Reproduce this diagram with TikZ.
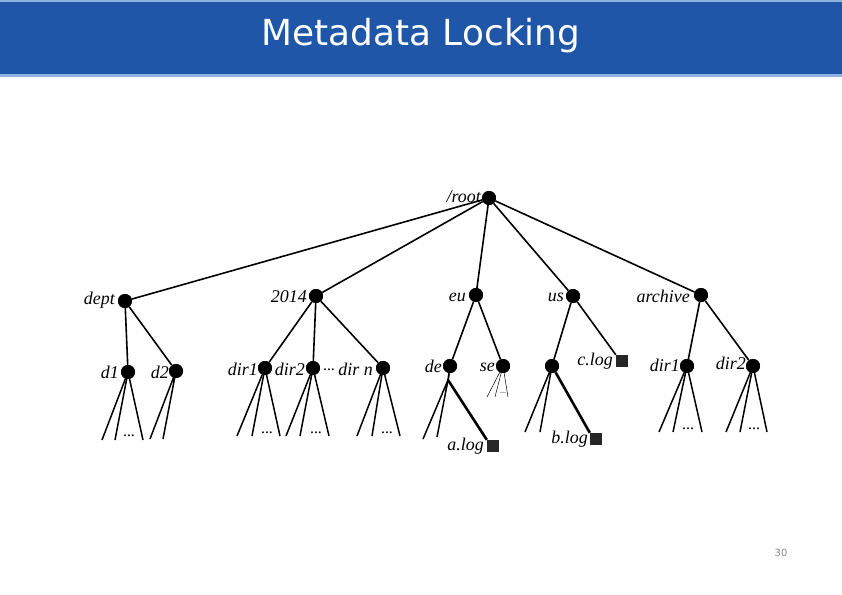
\documentclass[tikz,border=0pt]{standalone}
\usepackage{fontspec}
\newfontfamily\titlefont{DejaVu Sans}
\newfontfamily\lblfont{Liberation Serif}
\definecolor{hdrblue}{HTML}{1F56A8}
\definecolor{hdrline}{HTML}{8DB3E2}
\begin{document}
\begin{tikzpicture}[x=1bp,y=-1bp,
  dot/.style={circle,fill=black,inner sep=0pt,minimum size=14bp},
  sq/.style={rectangle,fill=black!85,inner sep=0pt,minimum size=12bp},
  lbl/.style={font=\lblfont\fontsize{18}{18}\selectfont\itshape,inner sep=0pt,anchor=east},
  edgeline/.style={line width=1.6bp},
  heavy/.style={line width=2.6bp},
  leaf/.style={line width=1.5bp},
  faint/.style={line width=0.5bp},
  dotsl/.style={font=\lblfont\fontsize{16}{16}\selectfont,inner sep=0pt}]
\useasboundingbox (0,0) rectangle (842,595);
\fill[white] (0,0) rectangle (842,595);
% header
\fill[hdrline] (0,0) rectangle (842,77);
\fill[hdrblue] (0,2) rectangle (842,74);
\node[font=\titlefont\fontsize{36}{36}\selectfont,text=white,anchor=base,inner sep=0pt] (title) at (421,46) {Metadata Locking};
\node[font=\titlefont\fontsize{10}{10}\selectfont,text=black!45,inner sep=0pt] (pnum) at (781,553) {30};

% nodes
\node[dot] (root) at (489,198) {};
\node[dot] (dept) at (125,301) {};
\node[dot] (y2014) at (316,296) {};
\node[dot] (eu) at (476,295) {};
\node[dot] (us) at (573,296) {};
\node[dot] (archive) at (701,295) {};
\node[dot] (d1) at (128,372) {};
\node[dot] (d2) at (176,371) {};
\node[dot] (dira) at (265,368) {};
\node[dot] (dirb) at (313,368) {};
\node[dot] (dirn) at (383,368) {};
\node[dot] (de) at (450,366) {};
\node[dot] (se) at (503,366) {};
\node[dot] (usx) at (552,366) {};
\node[dot] (ardir1) at (687,366) {};
\node[dot] (ardir2) at (753,366) {};
\node[sq] (clog) at (622,361) {};
\node[sq] (alog) at (493,446) {};
\node[sq] (blog) at (596,439) {};

% labels
\node[lbl] (lroot) at (481,197) {/root};
\node[lbl] (ldept) at (115,300) {dept};
\node[lbl] (l2014) at (307,297) {2014};
\node[lbl] (leu) at (466,297) {eu};
\node[lbl] (lus) at (564,297) {us};
\node[lbl] (larch) at (690,296) {archive};
\node[lbl] (ld1) at (119,372) {d1};
\node[lbl] (ld2) at (169,372) {d2};
\node[lbl] (ldira) at (258,369) {dir1};
\node[lbl] (ldirb) at (305,369) {dir2};
\node[lbl] (ldirn) at (373,369) {dir n};
\node[dotsl] (ldirdots) at (329,370) {...};
\node[lbl] (lde) at (442,366) {de};
\node[lbl] (lse) at (495,367) {se};
\node[lbl] (lclog) at (613,361) {c.log};
\node[lbl] (lard1) at (680,365) {dir1};
\node[lbl] (lard2) at (746,363) {dir2};
\node[lbl] (lalog) at (484,446) {a.log};
\node[lbl] (lblog) at (588,439) {b.log};

% main edges
\draw[edgeline] (root) -- (dept);
\draw[edgeline] (root) -- (y2014);
\draw[edgeline] (root) -- (eu);
\draw[edgeline] (root) -- (us);
\draw[edgeline] (root) -- (archive);
\draw[edgeline] (dept) -- (d1);
\draw[edgeline] (dept) -- (d2);
\draw[edgeline] (y2014) -- (dira);
\draw[edgeline] (y2014) -- (dirb);
\draw[edgeline] (y2014) -- (dirn);
\draw[edgeline] (eu) -- (de);
\draw[edgeline] (eu) -- (se);
\draw[edgeline] (us) -- (usx);
\draw[edgeline] (us) -- (clog.north west);
\draw[edgeline] (archive) -- (ardir1);
\draw[edgeline] (archive) -- (ardir2);

% leaf fans
\coordinate (d1a) at (102,440); \coordinate (d1b) at (115,440); \coordinate (d1c) at (143,440);
\draw[leaf] (d1a) -- (d1.center) -- (d1c); \draw[leaf] (d1) -- (d1b);
\node[dotsl] (d1dots) at (129,436) {...};
\coordinate (d2a) at (150,439); \coordinate (d2b) at (163,439);
\draw[leaf] (d2a) -- (d2.center) -- (d2b);

\coordinate (daa) at (237,436); \coordinate (dab) at (252,436); \coordinate (dac) at (280,436);
\draw[leaf] (daa) -- (dira.center) -- (dac); \draw[leaf] (dira) -- (dab);
\node[dotsl] (dadots) at (267,433) {...};
\coordinate (dba) at (286,436); \coordinate (dbb) at (300,436); \coordinate (dbc) at (329,436);
\draw[leaf] (dba) -- (dirb.center) -- (dbc); \draw[leaf] (dirb) -- (dbb);
\node[dotsl] (dbdots) at (316,433) {...};
\coordinate (dna) at (357,436); \coordinate (dnb) at (372,436); \coordinate (dnc) at (400,436);
\draw[leaf] (dna) -- (dirn.center) -- (dnc); \draw[leaf] (dirn) -- (dnb);
\node[dotsl] (dndots) at (387,433) {...};

\coordinate (dea) at (423,439); \coordinate (deb) at (437,437); \coordinate (dec) at (448,380);
\draw[leaf] (dea) -- (dec) -- (deb);
\draw[leaf] (de) -- (dec);
\draw[heavy] (dec) -- (alog.north west);

\coordinate (sea) at (487,397); \coordinate (seb) at (495,397); \coordinate (sec) at (508,397);
\draw[faint] (sea) -- (se.center) -- (sec); \draw[faint] (se) -- (seb);
\node[font=\lblfont\fontsize{8}{8}\selectfont,inner sep=0pt] (sedots) at (503,393) {...};

\coordinate (uxa) at (525,432); \coordinate (uxb) at (540,432);
\draw[leaf] (uxa) -- (usx.center) -- (uxb);
\draw[heavy] (usx) -- (blog.north west);

\coordinate (a1a) at (659,432); \coordinate (a1b) at (673,432); \coordinate (a1c) at (702,432);
\draw[leaf] (a1a) -- (ardir1.center) -- (a1c); \draw[leaf] (ardir1) -- (a1b);
\node[dotsl] (a1dots) at (688,429) {...};
\coordinate (a2a) at (726,432); \coordinate (a2b) at (740,432); \coordinate (a2c) at (767,432);
\draw[leaf] (a2a) -- (ardir2.center) -- (a2c); \draw[leaf] (ardir2) -- (a2b);
\node[dotsl] (a2dots) at (754,429) {...};

% redraw dots on top
\foreach \n in {root,dept,y2014,eu,us,archive,d1,d2,dira,dirb,dirn,de,se,usx,ardir1,ardir2}
  \fill (\n) circle (7bp);
\end{tikzpicture}
\end{document}
